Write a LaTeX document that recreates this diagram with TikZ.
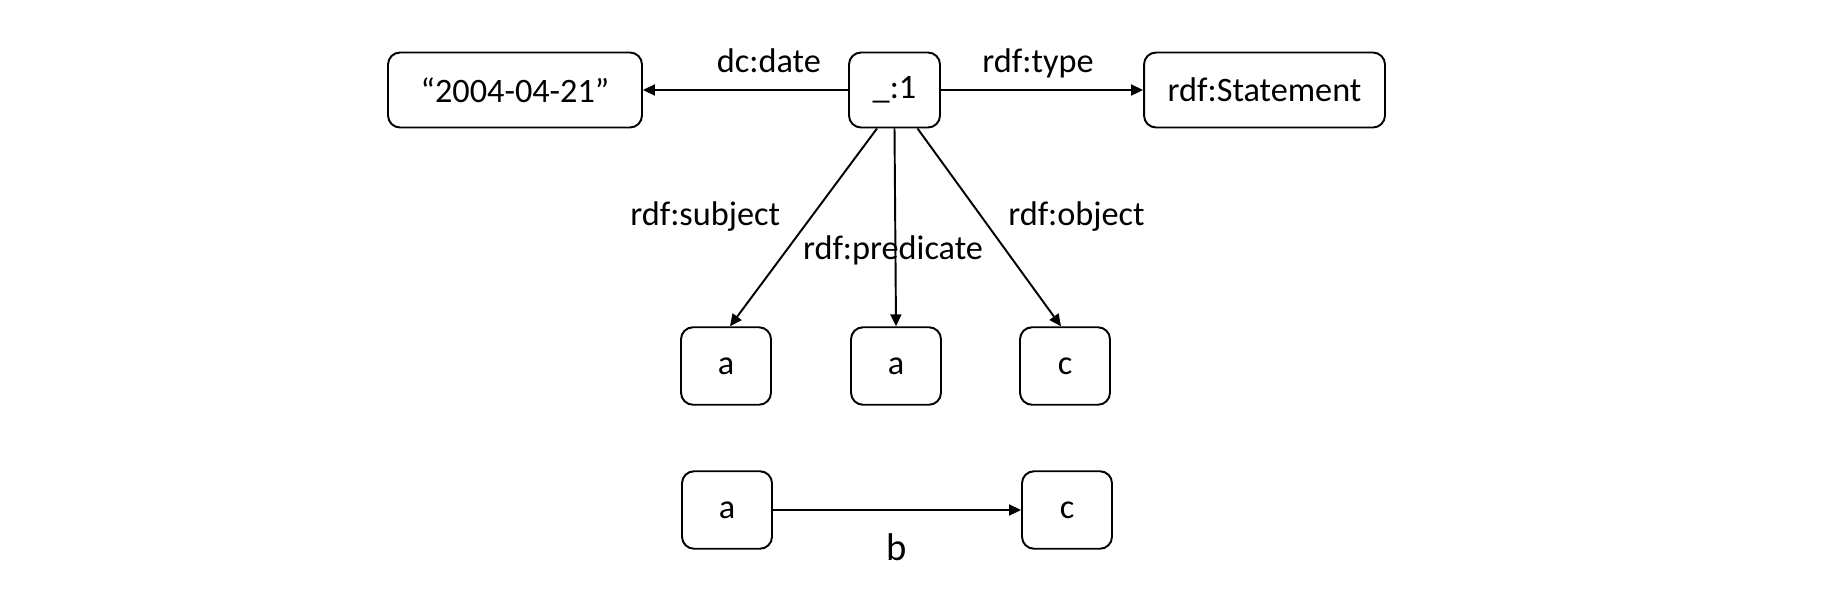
\documentclass[tikz,border=0pt]{standalone}
\usepackage{fontspec}
\setmainfont{Carlito}
\usetikzlibrary{arrows.meta}

\begin{document}
\begin{tikzpicture}[x=0.02cm, y=-0.02cm, font=\fontsize{19.5}{23}\selectfont,
        box/.style={draw, rounded corners=0.24cm, line width=1.1pt, minimum height=1.5cm, anchor=center},
        res/.style={box, minimum width=1.8cm, minimum height=1.55cm},
        lbl/.style={inner sep=0pt, anchor=base},
        link/.style={-{Triangle[length=0.24cm, width=0.22cm]}, line width=1.1pt}]
    \useasboundingbox (0,0) rectangle (1831,595);
    % reified statement
    \node[box, minimum width=1.82cm] (S) at (894.5,90) {\_:1};
    \node[box, minimum width=5.08cm] (D) at (515,90) {“2004-04-21”};
    \node[box, minimum width=4.82cm] (T) at (1264.5,90) {rdf:Statement};
    \node[res] (subj) at (726,366) {a};
    \node[res] (pred) at (896,366) {a};
    \node[res] (obj) at (1065,366) {c};
    % the triple itself
    \node[res] (A) at (727,510) {a};
    \node[res] (C) at (1067,510) {c};

    \draw[link] (S.west) -- (D.east) node[lbl, pos=0.386, yshift=0.36cm] {dc:date};
    \draw[link] (S.east) -- (T.west) node[lbl, pos=0.48, yshift=0.36cm] {rdf:type};
    \draw[link] ([xshift=-0.35cm]S.south) -- ([xshift=0.08cm]subj.north)
        node[lbl, pos=0.49, anchor=base east, xshift=-0.48cm] {rdf:subject};
    \draw[link] (S.south) -- (pred.north)
        node[lbl, pos=0.66, xshift=-0.05cm] {rdf:predicate};
    \draw[link] ([xshift=0.46cm]S.south) -- ([xshift=-0.08cm]obj.north)
        node[lbl, pos=0.49, anchor=base west, xshift=0.39cm] {rdf:object};
    \draw[link] (A) -- (C) node[lbl, pos=0.5, yshift=-1.02cm, font=\fontsize{22}{26}\selectfont] {b};
\end{tikzpicture}
\end{document}
